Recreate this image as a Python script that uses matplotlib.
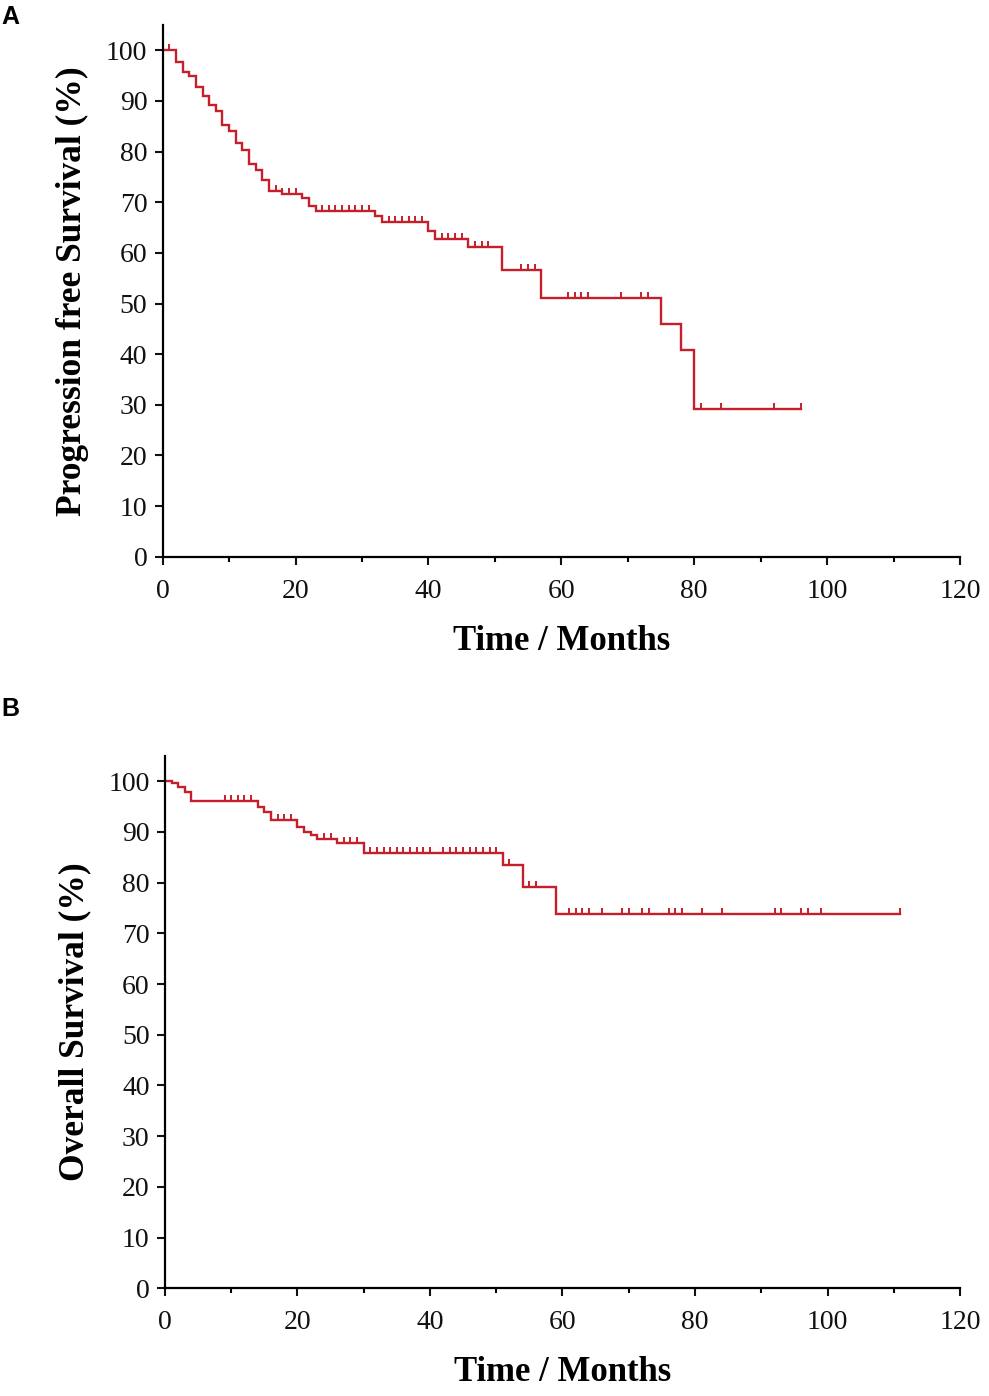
import matplotlib
matplotlib.use("Agg")
import matplotlib.pyplot as plt
from matplotlib.ticker import MultipleLocator

plt.rcParams['font.family'] = ['Liberation Serif', 'DejaVu Serif']

# Panel A - progression free survival (event times, survival after each event)
pfs_times = [0, 2, 3, 4, 5, 6, 7, 8, 9, 10, 11, 12, 13, 14, 15, 16, 18, 21, 22, 23,
             32, 33, 40, 41, 46, 51, 57, 75, 78, 80, 96]
pfs_surv = [100, 97.7, 95.7, 94.9, 92.7, 90.9, 89.2, 88.1, 85.3, 84.0, 81.7, 80.4,
            77.6, 76.4, 74.3, 72.3, 71.7, 70.8, 69.2, 68.2, 67.2, 66.0, 64.4, 62.8,
            61.1, 56.6, 51.1, 46.0, 40.8, 29.2, 29.2]
pfs_censored = [1, 17, 18, 19, 20, 24, 25, 26, 27, 28, 29, 30, 31, 34, 35, 36, 37, 38, 39,
                42, 43, 44, 45, 47, 48, 49, 54, 55, 56, 61, 62, 63, 64, 69, 72, 73,
                81, 84, 92, 96]

# Panel B - overall survival
os_times = [0, 1, 2, 3, 4, 14, 15, 16, 20, 21, 22, 23, 26, 30, 51, 54, 59, 111]
os_surv = [100, 99.7, 98.8, 97.8, 96.2, 95.0, 94.0, 92.4, 90.9, 90.0, 89.4, 88.6,
           87.8, 85.8, 83.5, 79.1, 73.9, 73.9]
os_censored = [9, 10, 11, 12, 13, 17, 18, 19, 24, 25, 27, 28, 29,
               31, 32, 33, 34, 35, 36, 37, 38, 39, 40, 42, 43, 44, 45, 46, 47, 48, 49, 50,
               52, 55, 56, 61, 62, 63, 64, 66, 69, 70, 72, 73, 76, 77, 78, 81, 84,
               92, 93, 96, 97, 99, 111]

red = '#c41f2a'


def surv_at(times, surv, t):
    val = surv[0]
    for ti, si in zip(times, surv):
        if ti <= t:
            val = si
    return val


def km_panel(ax, times, surv, censored, ylabel):
    ax.step(times, surv, where='post', color=red, lw=1.7, solid_joinstyle='miter')
    cy = [surv_at(times, surv, c) for c in censored]
    ax.plot(censored, cy, linestyle='none', marker=2, markersize=4.5,
            markeredgewidth=1.4, color=red)
    ax.set_xlim(0, 120)
    ax.set_ylim(0, 105)
    ax.xaxis.set_major_locator(MultipleLocator(20))
    ax.xaxis.set_minor_locator(MultipleLocator(10))
    ax.set_yticks(range(0, 101, 10))
    for s in ['top', 'right']:
        ax.spines[s].set_visible(False)
    for s in ['left', 'bottom']:
        ax.spines[s].set_linewidth(1.6)
    ax.tick_params(which='major', direction='out', length=6, width=1.5,
                   labelsize=20, colors='#111111')
    ax.tick_params(axis='x', which='major', pad=10)
    ax.tick_params(axis='y', which='major', pad=5)
    ax.tick_params(which='minor', direction='out', length=3.5, width=1.5)
    ax.tick_params(axis='y', which='minor', length=0)
    ax.set_xlabel('Time / Months', fontsize=25, fontweight='bold', labelpad=15)
    ax.set_ylabel(ylabel, fontsize=25.5, fontweight='bold', labelpad=12)


fig = plt.figure(figsize=(9.89, 13.96), dpi=100)
ax1 = fig.add_axes([0.1645, 0.6012, 0.8062, 0.3809])
ax2 = fig.add_axes([0.1668, 0.0772, 0.8039, 0.3813])

km_panel(ax1, pfs_times, pfs_surv, pfs_censored, 'Progression free Survival (%)')
km_panel(ax2, os_times, os_surv, os_censored, 'Overall Survival (%)')

fig.text(0.001, 0.9965, 'A', fontsize=18, fontweight='bold', family='Liberation Sans',
         va='top', ha='left')
fig.text(0.001, 0.5006, 'B', fontsize=18, fontweight='bold', family='Liberation Sans',
         va='top', ha='left')

fig.savefig('out.png', dpi=100)
